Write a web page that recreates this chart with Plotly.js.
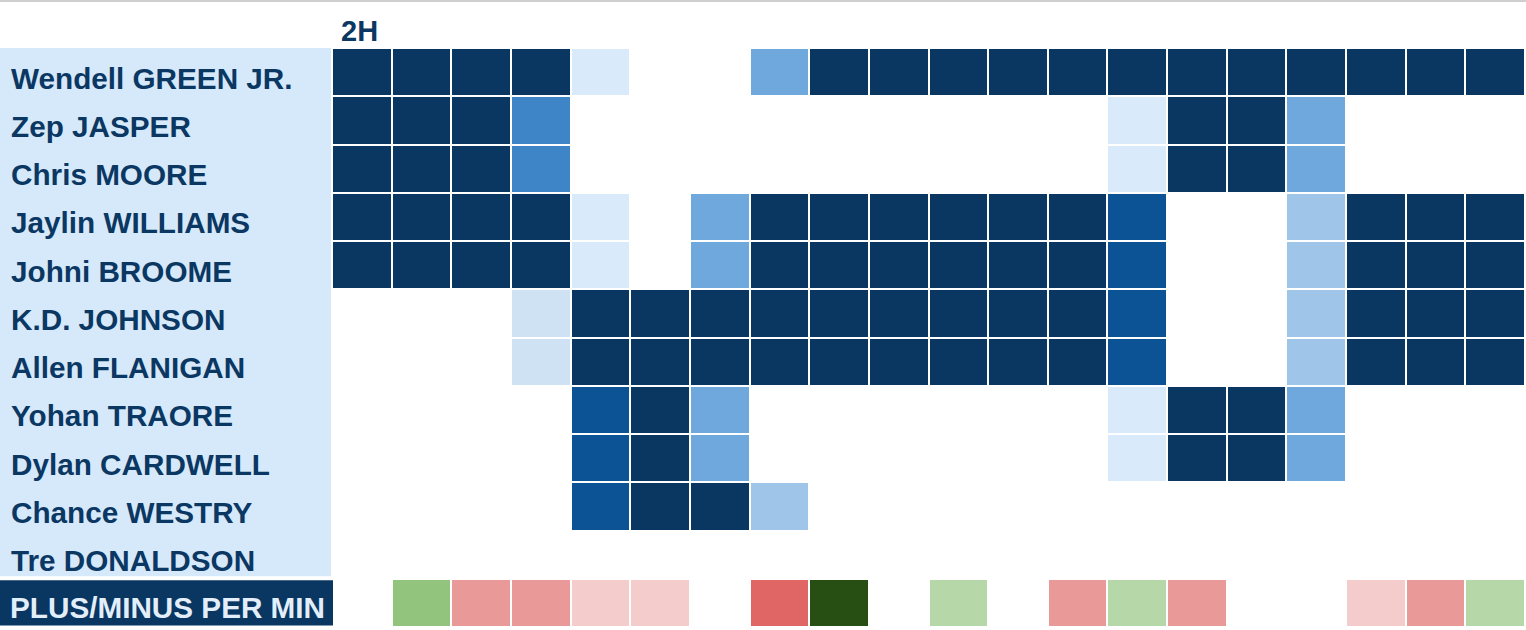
<!DOCTYPE html>
<html>
<head>
<meta charset="utf-8">
<script src="https://cdn.plot.ly/plotly-3.0.1.min.js"></script>
<style>
  html, body { margin: 0; padding: 0; background: #ffffff; }
  #chart { width: 1526px; height: 630px; }
</style>
</head>
<body>
<div id="chart"></div>
<script>
// ---- DATA ----
const periodLabel = '2H';
const minutes = ['1','2','3','4','5','6','7','8','9','10','11','12','13','14','15','16','17','18','19','20'];
const players = [
  'Wendell GREEN JR.', 'Zep JASPER', 'Chris MOORE', 'Jaylin WILLIAMS', 'Johni BROOME',
  'K.D. JOHNSON', 'Allen FLANIGAN', 'Yohan TRAORE', 'Dylan CARDWELL', 'Chance WESTRY', 'Tre DONALDSON'
];
const pmLabel = 'PLUS/MINUS PER MIN';
// court-time level per minute (1 = barely on court ... 7 = whole minute), null = off court
const n = null;
const wendellGreen   = [7,7,7,7,1,n,n,4,7,7,7,7,7,7,7,7,7,7,7,7];
const zepJasper      = [7,7,7,5,n,n,n,n,n,n,n,n,n,1,7,7,4,n,n,n];
const chrisMoore     = [7,7,7,5,n,n,n,n,n,n,n,n,n,1,7,7,4,n,n,n];
const jaylinWilliams = [7,7,7,7,1,n,4,7,7,7,7,7,7,6,n,n,3,7,7,7];
const johniBroome    = [7,7,7,7,1,n,4,7,7,7,7,7,7,6,n,n,3,7,7,7];
const kdJohnson      = [n,n,n,2,7,7,7,7,7,7,7,7,7,6,n,n,3,7,7,7];
const allenFlanigan  = [n,n,n,2,7,7,7,7,7,7,7,7,7,6,n,n,3,7,7,7];
const yohanTraore    = [n,n,n,n,6,7,4,n,n,n,n,n,n,1,7,7,4,n,n,n];
const dylanCardwell  = [n,n,n,n,6,7,4,n,n,n,n,n,n,1,7,7,4,n,n,n];
const chanceWestry   = [n,n,n,n,6,7,7,3,n,n,n,n,n,n,n,n,n,n,n,n];
const treDonaldson   = [n,n,n,n,n,n,n,n,n,n,n,n,n,n,n,n,n,n,n,n];
// plus/minus per minute
const plusMinus      = [n,2,-2,-2,-1,-1,n,-3,3,n,1,n,-2,1,-2,n,n,-1,-2,1];

// ---- STYLE ----
const navy = '#0b3763';
const blueSteps = ['#d9eafb','#cfe2f3','#9fc5e8','#6fa8dc','#3d85c6','#0b5394','#0a3662'];
const pmSteps = ['#e06666','#ea9999','#f4cccc','#ffffff','#b6d7a8','#93c47d','#274e13'];
const allSteps = blueSteps.concat(pmSteps);
function stepScale(cols) {
  const out = [];
  const k = cols.length;
  cols.forEach((c, i) => { out.push([i / k, c]); out.push([(i + 1) / k, c]); });
  return out;
}

const playerZ = [wendellGreen, zepJasper, chrisMoore, jaylinWilliams, johniBroome,
  kdJohnson, allenFlanigan, yohanTraore, dylanCardwell, chanceWestry, treDonaldson];
// plus/minus mapped into the second half of the shared step colour scale (-3..3 -> 8..14)
const pmOffset = blueSteps.length + 4;
const pmZ = plusMinus.map(v => (v === null ? null : v + pmOffset));
const rows = players.concat([pmLabel]);
const allZ = playerZ.concat([pmZ]);

const traces = [
  {
    type: 'heatmap', x: minutes, y: rows, z: allZ,
    colorscale: stepScale(allSteps), zmin: 0.5, zmax: allSteps.length + 0.5,
    showscale: false, xgap: 2, ygap: 2, hoverinfo: 'skip'
  }
];

const W = 1526, H = 630, T = 48, B = 3;
const plotH = H - T - B;
const FS = 29.7;

const annotations = players.map(p => ({
  text: p, xref: 'paper', yref: 'y', x: 9 / W, y: p, xanchor: 'left', yanchor: 'middle',
  yshift: -6, showarrow: false,
  font: { family: 'Liberation Sans, Arial, sans-serif', size: FS, color: navy, weight: 700 }
}));
annotations.push({
  text: pmLabel, xref: 'paper', yref: 'y', x: 8 / W, y: pmLabel, xanchor: 'left', yanchor: 'middle',
  yshift: -5, showarrow: false,
  font: { family: 'Liberation Sans, Arial, sans-serif', size: FS, color: '#e2effb', weight: 700 }
});
annotations.push({
  text: periodLabel, xref: 'paper', yref: 'paper', x: 339 / W, y: 1 + (T - 31) / plotH,
  xanchor: 'left', yanchor: 'middle', showarrow: false,
  font: { family: 'Liberation Sans, Arial, sans-serif', size: 29, color: navy, weight: 700 }
});

const shapes = [
  { type: 'rect', xref: 'paper', yref: 'y', x0: 0, x1: 331 / W, y0: -0.5, y1: 10.45,
    fillcolor: '#d6e9fb', line: { width: 0 }, layer: 'below' },
  { type: 'rect', xref: 'paper', yref: 'y', x0: 0, x1: 333 / W, y0: 10.53, y1: 11.47,
    fillcolor: '#0a3662', line: { width: 0 }, layer: 'below' },
  { type: 'line', xref: 'paper', yref: 'paper', x0: 0, x1: 1, y0: 1 + (T - 1) / plotH, y1: 1 + (T - 1) / plotH,
    line: { color: '#cfcfcf', width: 2 } }
];

const layout = {
  width: W, height: H,
  margin: { l: 0, r: 0, t: T, b: B, pad: 0 },
  paper_bgcolor: '#ffffff', plot_bgcolor: '#ffffff',
  showlegend: false,
  xaxis: {
    domain: [332 / W, 1525 / W], range: [-0.5, 19.5], type: 'category',
    showgrid: false, zeroline: false, showticklabels: false, ticks: '', showline: false, fixedrange: true
  },
  yaxis: {
    type: 'category', categoryorder: 'array', categoryarray: rows, range: [11.5, -0.5],
    showgrid: false, zeroline: false, showticklabels: false, ticks: '', showline: false, fixedrange: true
  },
  annotations: annotations,
  shapes: shapes
};

Plotly.newPlot('chart', traces, layout, { displayModeBar: false, staticPlot: true });
</script>
</body>
</html>
